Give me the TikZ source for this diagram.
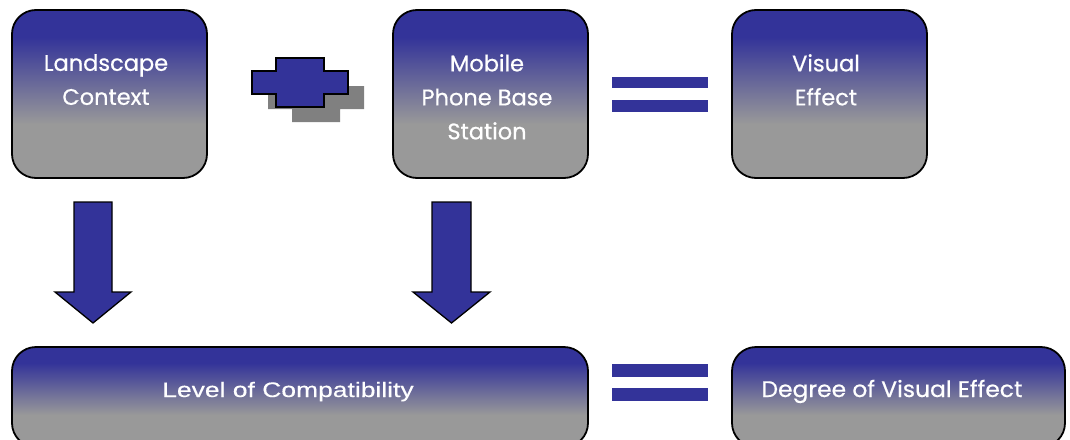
\documentclass[tikz,border=0pt]{standalone}
\usepackage{fontspec}
\setmainfont{Poppins}
\newfontfamily\gbfont[FakeBold=0.6]{Poppins}
\newfontfamily\arialfont[FakeBold=0.3]{Liberation Sans}
\definecolor{gbblue}{HTML}{333399}
\definecolor{gbgray}{HTML}{999999}
\definecolor{gbshadow}{HTML}{808080}
\pgfdeclareverticalshading{boxshade}{100bp}{color(0bp)=(gbgray); color(41bp)=(gbgray); color(67bp)=(gbblue); color(100bp)=(gbblue)}
\begin{document}
\begin{tikzpicture}[x=1pt,y=-1pt,
  gbbox/.style={draw=black, line width=1.8pt, rounded corners=24pt, shading=boxshade, inner sep=0pt},
  gbtext/.style={text=white, align=center, font=\gbfont\fontsize{22.5}{34}\selectfont, inner sep=0pt},
  gbshape/.style={fill=gbblue, draw=black, line width=1.3pt, line join=miter},
  gbshadowshape/.style={fill=gbshadow},
  gbbar/.style={fill=gbblue}]
\clip (0,0) rectangle (1070,439);
\fill[white] (0,0) rectangle (1070,439);

% top boxes
\node[gbbox, minimum width=195pt, minimum height=168pt] (land) at (109.5,94) {};
\node[gbbox, minimum width=195pt, minimum height=168pt] (mobile) at (490.5,94) {};
\node[gbbox, minimum width=195pt, minimum height=168pt] (visual) at (829.5,94) {};
\node[gbtext, anchor=north] (landT) at (106,54) {Landscape\\Context};
\node[gbtext, anchor=north] (mobileT) at (487,54) {Mobile\\Phone Base\\Station};
\node[gbtext, anchor=north] (visualT) at (826,54) {Visual\\Effect};

% bottom boxes
\node[gbbox, minimum width=576pt, minimum height=100pt] (level) at (300,397) {};
\node[gbbox, minimum width=333pt, minimum height=100pt] (degree) at (898.5,397) {};
\node[text=white, inner sep=0pt, anchor=base, font=\arialfont\fontsize{21}{26}\selectfont] (levelT) at (288,397) {\scalebox{1.26}[1]{Level of Compatibility}};
\node[gbtext, anchor=base] (degreeT) at (892,397) {\scalebox{1.04}[1]{Degree of Visual Effect}};

% plus sign with shadow
\begin{scope}[shift={(16,15)}]
\fill[gbshadowshape] (276,58) -- (324,58) -- (324,71) -- (348,71) -- (348,94) -- (324,94) -- (324,107) -- (276,107) -- (276,94) -- (252,94) -- (252,71) -- (276,71) -- cycle;
\end{scope}
\draw[gbshape] (276,58) -- (324,58) -- (324,71) -- (348,71) -- (348,94) -- (324,94) -- (324,107) -- (276,107) -- (276,94) -- (252,94) -- (252,71) -- (276,71) -- cycle;

% equals signs
\fill[gbbar] (612,77) rectangle (708,88);
\fill[gbbar] (612,100) rectangle (708,112);
\fill[gbbar] (612,364) rectangle (708,377);
\fill[gbbar] (612,388) rectangle (708,401);

% down arrows
\draw[gbshape] (74,202) -- (112,202) -- (112,292) -- (131,292) -- (93,323) -- (55,292) -- (74,292) -- cycle;
\draw[gbshape] (432,202) -- (471,202) -- (471,292) -- (490,292) -- (451.5,323) -- (413,292) -- (432,292) -- cycle;
\end{tikzpicture}
\end{document}
